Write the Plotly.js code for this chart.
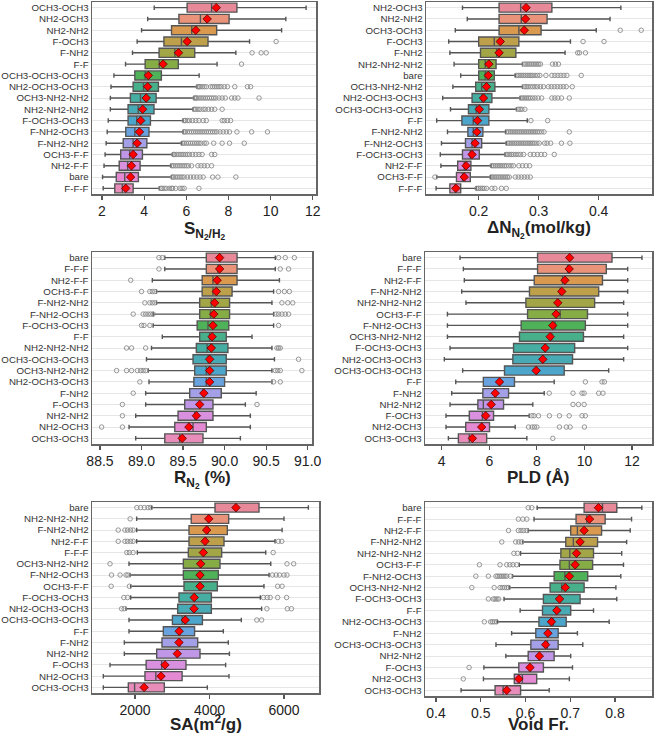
<!DOCTYPE html>
<html><head><meta charset="utf-8">
<script src="https://cdn.plot.ly/plotly-3.0.1.min.js"></script>
<style>html,body{margin:0;padding:0;background:#fff}#chart{width:654px;height:736px}</style>
</head><body><div id="chart"></div>
<script>
// ---------- Panel 1: S N2/H2 ----------
const cats1 = ['OCH3-OCH3','NH2-OCH3','NH2-NH2','F-OCH3','F-NH2','F-F','OCH3-OCH3-OCH3','NH2-OCH3-OCH3','OCH3-NH2-NH2','NH2-NH2-NH2','F-OCH3-OCH3','F-NH2-OCH3','F-NH2-NH2','OCH3-F-F','NH2-F-F','bare','F-F-F'];
const lo1  = [4.48,4.17,3.88,3.67,3.45,3.12,2.57,2.43,2.4,2.4,2.3,2.25,2.2,2.15,2.1,2.03,2.06];
const q1_1 = [6.04,5.65,5.3,4.94,4.71,4.05,3.56,3.48,3.35,3.24,3.24,3.13,3.01,2.89,2.82,2.68,2.61];
const med1 = [7.2,6.67,6.26,5.77,5.46,4.72,4.05,3.97,3.83,3.72,3.65,3.56,3.48,3.32,3.22,3.08,2.97];
const q3_1 = [8.4,8.03,7.44,7.03,6.4,5.62,4.82,4.68,4.57,4.47,4.3,4.23,4.13,3.92,3.81,3.73,3.48];
const hi1  = [11.68,10.72,10.52,9.0,8.35,7.46,6.61,6.5,6.36,6.32,5.85,5.85,5.78,5.35,5.27,5.3,4.72];
const mean1= [7.42,6.99,6.45,6.04,5.63,4.9,4.2,4.17,4.1,3.93,3.84,3.78,3.67,3.48,3.4,3.36,3.13];
const out1 = [[],[],[],[10.26],[9.12,9.55,9.79],[8.62],[],
 [6.55,6.6,6.65,6.75,6.85,6.95,7.15,7.25,7.35,7.45,7.55,7.65,7.8,7.95,8.3,8.9,9.05],
 [6.4,6.45,6.5,6.6,6.7,6.8,6.9,7.0,7.1,7.2,7.3,7.4,7.55,7.7,7.85,8.15,8.3,8.45,9.45],
 [6.38,6.45,6.55,6.65,6.8,6.9,7.05,7.2,7.35,7.7],
 [5.9,5.95,6.05,6.15,6.3,6.45,6.6,6.8,6.95,7.7,7.8,7.95,8.1],
 [5.9,5.95,6.05,6.15,6.25,6.35,6.45,6.55,6.65,6.75,6.85,6.95,7.05,7.15,7.25,7.35,7.45,7.6,7.75,7.9,8.05,8.4,9.1,9.85],
 [5.82,5.9,6.0,6.1,6.2,6.3,6.4,6.5,6.6,6.7,6.85,6.95,7.3,7.7,8.05,8.75],
 [5.4,5.45,5.55,5.65,5.75,5.85,5.95,6.05,6.15,6.3,6.45,6.6,6.75,7.2,7.35],
 [5.32,5.4,5.5,5.6,5.7,5.8,5.9,6.0,6.1,6.25,6.55,6.7,6.85,7.0,7.2],
 [5.35,5.4,5.5,5.6,5.7,5.8,5.9,6.05,6.2,6.35,6.5,6.65,6.8,7.25,7.5,8.35],
 [4.8,4.85,4.95,5.05,5.2,5.3,5.35,5.5,5.7,5.8,5.9,6.6]];

// ---------- Panel 2: Delta N N2 ----------
const cats2 = ['NH2-OCH3','NH2-NH2','OCH3-OCH3','F-OCH3','F-NH2','NH2-NH2-NH2','bare','OCH3-NH2-NH2','NH2-OCH3-OCH3','OCH3-OCH3-OCH3','F-F','F-NH2-NH2','F-NH2-OCH3','F-OCH3-OCH3','NH2-F-F','OCH3-F-F','F-F-F'];
const lo2  = [0.173,0.181,0.161,0.15,0.152,0.159,0.17,0.157,0.14,0.153,0.13,0.148,0.138,0.136,0.137,0.13,0.129];
const q1_2 = [0.234,0.234,0.234,0.2,0.203,0.2,0.2,0.195,0.189,0.183,0.172,0.182,0.178,0.173,0.165,0.163,0.152];
const med2 = [0.27,0.271,0.267,0.226,0.23,0.211,0.211,0.205,0.205,0.196,0.191,0.191,0.189,0.186,0.176,0.173,0.161];
const q3_2 = [0.322,0.314,0.304,0.267,0.262,0.229,0.226,0.227,0.222,0.217,0.217,0.207,0.205,0.201,0.187,0.186,0.17];
const hi2  = [0.437,0.419,0.396,0.353,0.344,0.273,0.261,0.273,0.269,0.263,0.281,0.245,0.246,0.244,0.221,0.22,0.196];
const mean2= [0.279,0.278,0.276,0.236,0.234,0.217,0.216,0.213,0.208,0.201,0.198,0.197,0.194,0.189,0.179,0.176,0.162];
const out2 = [[],[],[0.436,0.471],[0.374,0.409],[0.365,0.368,0.378],
 [0.276,0.279,0.282,0.285,0.288,0.291,0.294,0.297,0.3,0.303,0.323,0.328,0.333],
 [0.263,0.266,0.269,0.272,0.275,0.278,0.281,0.284,0.287,0.29,0.294,0.298,0.302,0.312,0.322,0.327,0.332,0.337,0.342,0.347,0.371],
 [0.276,0.279,0.282,0.286,0.29,0.294,0.298,0.303,0.308,0.316,0.321,0.326,0.331,0.336,0.341,0.346,0.356],
 [0.271,0.274,0.277,0.28,0.283,0.286,0.29,0.294,0.299,0.305,0.322,0.327,0.332,0.338,0.351],
 [0.266,0.269,0.272,0.277],
 [0.287,0.315],
 [0.247,0.25,0.253,0.256,0.259,0.262,0.265,0.268,0.271,0.274,0.277,0.28,0.283,0.286,0.289,0.292,0.295,0.298,0.301,0.305,0.309,0.351],
 [0.248,0.251,0.254,0.257,0.26,0.263,0.266,0.269,0.272,0.275,0.278,0.281,0.284,0.287,0.29,0.293,0.297,0.301,0.31,0.314,0.32,0.338,0.352],
 [0.246,0.249,0.252,0.255,0.258,0.262,0.266,0.27,0.275,0.286,0.292,0.298,0.304,0.31,0.326],
 [0.222,0.225,0.228,0.231,0.234,0.237,0.24,0.243,0.246,0.25,0.254,0.258,0.267,0.273,0.279,0.285],
 [0.127,0.221,0.224,0.227,0.23,0.233,0.236,0.239,0.242,0.245,0.248,0.251,0.261,0.266,0.271,0.276,0.281,0.286],
 [0.197,0.2,0.203,0.206,0.209,0.213,0.222,0.227,0.238,0.246]];

// ---------- Panel 3: R N2 (%) ----------
const cats3 = ['bare','F-F-F','NH2-F-F','OCH3-F-F','F-NH2-NH2','F-NH2-OCH3','F-OCH3-OCH3','F-F','NH2-NH2-NH2','OCH3-OCH3-OCH3','OCH3-NH2-NH2','NH2-OCH3-OCH3','F-NH2','F-OCH3','NH2-NH2','NH2-OCH3','OCH3-OCH3'];
const lo3  = [89.28,89.28,89.13,89.18,89.18,89.14,89.14,89.25,89.12,89.06,89.08,89.09,89.05,89.05,88.93,88.85,88.93];
const q1_3 = [89.78,89.78,89.73,89.73,89.7,89.7,89.67,89.7,89.66,89.62,89.64,89.63,89.58,89.52,89.44,89.4,89.28];
const med3 = [89.94,89.92,89.86,89.86,89.84,89.83,89.8,89.82,89.79,89.8,89.78,89.78,89.74,89.7,89.64,89.62,89.46];
const q3_3 = [90.15,90.15,90.15,90.09,90.06,90.06,90.05,90.02,90.04,90.02,90.02,90.0,89.96,89.86,89.86,89.78,89.74];
const hi3  = [90.61,90.61,90.66,90.59,90.57,90.59,90.59,90.33,90.57,90.6,90.57,90.57,90.38,90.25,90.31,90.31,90.19];
const mean3= [89.94,89.94,89.91,89.9,89.88,89.87,89.86,89.85,89.84,89.82,89.82,89.82,89.75,89.7,89.66,89.57,89.49];
const out3 = [[89.21,89.25,90.65,90.73,90.84],[89.21,90.67,90.77],[88.87],
 [89.0,89.1,89.13,89.16,90.65,90.72,90.78],
 [89.04,89.1,89.13,89.16,90.69,90.76,90.82],
 [88.9,89.02,89.05,89.08,89.11,89.14,90.62,90.65,90.69,90.73,90.77],
 [89.0,89.03,89.1,90.65],[],
 [88.82,88.88,89.05,90.63,90.65,90.67],[90.89],
 [88.7,88.82,88.88,88.95,88.99,89.02,89.05,90.61,90.64,90.67,90.93],
 [88.98,90.59,90.67],[88.9],[88.77,90.39],[88.77],[88.52,88.77],[]];

// ---------- Panel 4: PLD ----------
const cats4 = ['bare','F-F-F','NH2-F-F','F-NH2-NH2','NH2-NH2-NH2','OCH3-F-F','F-NH2-OCH3','OCH3-NH2-NH2','F-OCH3-OCH3','NH2-OCH3-OCH3','OCH3-OCH3-OCH3','F-F','F-NH2','NH2-NH2','F-OCH3','NH2-OCH3','OCH3-OCH3'];
const lo4  = [4.77,4.91,4.95,4.84,5.02,4.24,4.24,4.24,4.35,4.11,4.88,4.59,4.42,4.35,4.18,4.18,4.28];
const q1_4 = [8.03,8.03,7.89,7.69,7.54,7.61,7.34,7.27,7.02,6.99,6.64,5.75,5.73,5.52,5.16,5.01,4.7];
const med4 = [9.38,9.29,9.08,8.98,8.87,8.98,8.77,8.63,8.35,8.25,8.0,6.43,6.25,5.75,5.71,5.68,5.16];
const q3_4 = [11.16,10.92,10.76,10.6,10.43,10.13,10.04,9.96,9.59,9.5,9.15,7.06,6.81,6.6,6.18,6.01,5.89];
const hi4  = [12.42,11.82,11.82,11.82,11.65,11.82,11.82,11.65,11.82,11.65,11.02,8.73,8.31,7.83,7.68,7.09,7.58];
const mean4= [9.38,9.36,9.18,9.05,8.88,8.81,8.67,8.56,8.35,8.25,7.97,6.43,6.25,6.08,5.85,5.68,5.29];
const out4 = [[],[],[],[],[],[],[],[],[],[],[],
 [10.04,10.74,10.84],[8.52,9.52,9.9,9.99,10.6,10.78],[9.52,9.75,9.99],
 [7.79,7.88,8.07,8.53,8.95,9.36,9.9,10.04],[7.65,7.8,7.9,8.0,8.95,9.24,9.4,10.0],[8.67]];

// ---------- Panel 5: SA ----------
const cats5 = ['bare','NH2-NH2-NH2','F-NH2-NH2','NH2-F-F','F-F-F','OCH3-NH2-NH2','F-NH2-OCH3','OCH3-F-F','F-OCH3-OCH3','NH2-OCH3-OCH3','OCH3-OCH3-OCH3','F-F','F-NH2','NH2-NH2','F-OCH3','NH2-OCH3','OCH3-OCH3'];
const lo5  = [2447,2045,2045,2045,2063,1839,1866,1884,1884,1758,1839,1839,1714,1714,1329,1150,1150];
const q1_5 = [4148,3510,3450,3450,3432,3298,3298,3316,3181,3146,3005,2761,2725,2582,2300,2268,1821];
const med5 = [4720,3969,3960,3910,3835,3772,3745,3727,3593,3584,3270,3208,3208,3136,2716,2560,1990];
const q3_5 = [5329,4515,4479,4390,4327,4282,4237,4210,4050,4050,3810,3600,3683,3745,3369,3265,2788];
const hi5  = [6654,6000,5950,5760,5510,5645,5600,5463,5365,5400,4855,4372,4505,4535,4434,4524,3942];
const mean5= [4710,3980,3924,3880,3835,3763,3745,3745,3590,3584,3350,3186,3181,3136,2805,2698,2245];
const out5 = [[2050,2150,2250,2350,2420],[1870],[1550,1730,1800,1880,1950],
 [1550,1730,1800,1880,1950,5850,5940],[1780,1850,1950,5710],[1330,6080,6260],
 [1370,1600,1760,1810,5690,5790,5880,6000,6080],[1360,1850,5830,5950],
 [1700,1800,5450,5550,5630,5830,6070],[1640,1710,5540,6090,6200],[5270,5400],
 [],[],[],[],[],[]];

// ---------- Panel 6: Void fraction ----------
const cats6 = ['bare','F-F-F','NH2-F-F','F-NH2-NH2','NH2-NH2-NH2','OCH3-F-F','F-NH2-OCH3','OCH3-NH2-NH2','F-OCH3-OCH3','F-F','NH2-OCH3-OCH3','F-NH2','OCH3-OCH3-OCH3','NH2-NH2','F-OCH3','NH2-OCH3','OCH3-OCH3'];
const lo6  = [0.626,0.619,0.606,0.594,0.589,0.586,0.571,0.564,0.552,0.588,0.537,0.569,0.534,0.556,0.507,0.506,0.456];
const q1_6 = [0.731,0.713,0.701,0.69,0.679,0.677,0.664,0.655,0.64,0.638,0.63,0.623,0.612,0.606,0.585,0.575,0.532];
const med6 = [0.772,0.737,0.716,0.707,0.699,0.698,0.688,0.681,0.677,0.668,0.662,0.649,0.649,0.631,0.61,0.593,0.55];
const q3_6 = [0.804,0.778,0.77,0.761,0.752,0.75,0.739,0.731,0.722,0.701,0.691,0.673,0.673,0.664,0.64,0.625,0.589];
const hi6  = [0.86,0.837,0.834,0.826,0.815,0.819,0.813,0.802,0.804,0.752,0.787,0.716,0.728,0.701,0.705,0.698,0.653];
const mean6= [0.763,0.743,0.731,0.722,0.714,0.711,0.698,0.689,0.676,0.67,0.658,0.65,0.645,0.631,0.61,0.585,0.558];
const out6 = [[0.606,0.614],[0.584,0.594,0.603],[0.562,0.584,0.59,0.596,0.603],[0.547,0.578,0.585,0.591],
 [0.574,0.582],[0.497,0.543,0.558,0.565,0.572,0.58],
 [0.489,0.517,0.534,0.538,0.542,0.546,0.55,0.554,0.558,0.566],
 [0.48,0.53,0.543,0.548,0.553,0.558,0.562],[0.517,0.528,0.532,0.536,0.54],[],
 [0.508,0.522,0.526,0.53,0.535],[],[],[],[0.474],[0.461],[]];

const palette = ['#e8899a','#e8937a','#d99a50','#bfa04a','#a3a646','#86ac45','#4fb259','#47b08b','#45ada2','#47aab5','#4ca6cb','#68a3e0','#a3a0e8','#c097e6','#d990df','#e48ad2','#e88cba'];

const titles = ['S<sub>N<sub>2</sub>/H<sub>2</sub></sub>','ΔN<sub>N<sub>2</sub></sub>(mol/kg)','R<sub>N<sub>2</sub></sub> (%)','PLD (Å)','SA(m<sup>2</sup>/g)','Void Fr.'];

const panels = [
 {cats:cats1,lo:lo1,q1:q1_1,med:med1,q3:q3_1,hi:hi1,mean:mean1,out:out1},
 {cats:cats2,lo:lo2,q1:q1_2,med:med2,q3:q3_2,hi:hi2,mean:mean2,out:out2},
 {cats:cats3,lo:lo3,q1:q1_3,med:med3,q3:q3_3,hi:hi3,mean:mean3,out:out3},
 {cats:cats4,lo:lo4,q1:q1_4,med:med4,q3:q3_4,hi:hi4,mean:mean4,out:out4},
 {cats:cats5,lo:lo5,q1:q1_5,med:med5,q3:q3_5,hi:hi5,mean:mean5,out:out5},
 {cats:cats6,lo:lo6,q1:q1_6,med:med6,q3:q3_6,hi:hi6,mean:mean6,out:out6}
];

// layout geometry (pixels)
const W = 654, H = 736;
const boxPx = [
 {x:[92,316], y:[2,194]},  {x:[426,652], y:[2,194]},
 {x:[92,312], y:[252,444]},{x:[425,652], y:[252,444]},
 {x:[92,319], y:[502,693]},{x:[425,652], y:[502,696]}
];
const xRanges = [[1.53,12.15],[0.1122,0.4889],[88.404,91.052],[3.297,12.842],[846,6940],[0.3754,0.8827]];
const xTick = [{dtick:2,tick0:0},{dtick:0.1,tick0:0},{dtick:0.5,tick0:0,tickformat:'.1f'},{dtick:2,tick0:0},{dtick:2000,tick0:0,tickformat:'d'},{dtick:0.1,tick0:0,tickformat:'.1f'}];
// [x px, y px, yanchor]
const titlePx = [[204,231,'middle'],[539,229,'middle'],[202,479,'middle'],[538,477,'middle'],[206,736,'bottom'],[538,736,'bottom']];

const traces = [];
const layout = {
  width: W, height: H, margin:{l:0,r:0,t:0,b:0},
  paper_bgcolor:'#ffffff', plot_bgcolor:'#ffffff', showlegend:false,
  font:{family:'Liberation Sans, Arial, sans-serif', color:'#222'},
  annotations: []
};

panels.forEach((p,k)=>{
  const n = k+1;
  const xa = n===1 ? 'x' : 'x'+n, ya = n===1 ? 'y' : 'y'+n;
  const xk = n===1 ? 'xaxis' : 'xaxis'+n, yk = n===1 ? 'yaxis' : 'yaxis'+n;
  p.cats.forEach((c,i)=>{
    traces.push({
      type:'box', orientation:'h', xaxis:xa, yaxis:ya,
      y:[c], q1:[p.q1[i]], median:[p.med[i]], q3:[p.q3[i]],
      lowerfence:[p.lo[i]], upperfence:[p.hi[i]],
      fillcolor: palette[i], line:{color:'#555555', width:1.4},
      width:0.8, whiskerwidth:0.5, boxpoints:false,
      hoverinfo:'skip', showlegend:false
    });
  });
  const ox = [], oy = [];
  p.out.forEach((arr,i)=>arr.forEach(v=>{ ox.push(v); oy.push(p.cats[i]); }));
  traces.push({type:'scatter', mode:'markers', xaxis:xa, yaxis:ya, x:ox, y:oy,
    marker:{symbol:'circle-open', size:4.5, color:'#8a8a8a', line:{width:0.9}},
    hoverinfo:'skip', showlegend:false});
  traces.push({type:'scatter', mode:'markers', xaxis:xa, yaxis:ya, x:p.mean, y:p.cats,
    marker:{symbol:'diamond', size:6.5, color:'#ff0000', line:{color:'#5a0000', width:0.8}},
    hoverinfo:'skip', showlegend:false});

  const b = boxPx[k];
  layout[xk] = Object.assign({
    domain:[b.x[0]/W, b.x[1]/W], anchor:ya, range:xRanges[k], autorange:false,
    showgrid:false, zeroline:false, showline:true, mirror:true,
    linecolor:'#666666', linewidth:1.5, ticks:'outside', ticklen:4, tickwidth:1.2,
    tickcolor:'#555555', tickfont:{size:14, color:'#222222'}
  }, xTick[k]);
  layout[yk] = {
    domain:[1-b.y[1]/H, 1-b.y[0]/H], anchor:xa, type:'category',
    categoryorder:'array', categoryarray:p.cats, range:[16.5,-0.5], autorange:false,
    tickmode:'linear', tick0:0, dtick:1,
    showgrid:true, gridcolor:'#e6e6e6', gridwidth:1, zeroline:false,
    showline:true, mirror:true, linecolor:'#666666', linewidth:1.5,
    ticks:'', tickfont:{size:9.7, color:'#333333'}
  };
  layout.annotations.push({
    text: titles[k], xref:'paper', yref:'paper',
    x: titlePx[k][0]/W, y: 1 - titlePx[k][1]/H, xanchor:'center', yanchor:titlePx[k][2],
    showarrow:false, font:{size:17, color:'#222222', weight:'bold'}
  });
});

Plotly.newPlot('chart', traces, layout, {staticPlot:true, displayModeBar:false});
</script></body></html>
